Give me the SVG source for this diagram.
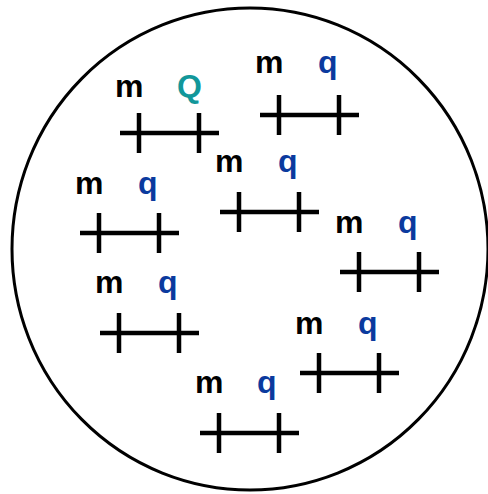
<svg xmlns="http://www.w3.org/2000/svg" width="488" height="494" viewBox="0 0 488 494">
<style>
.b{stroke:#000;stroke-width:4.5;fill:none}
.t{font-family:"Liberation Sans",Arial,sans-serif;font-weight:bold;font-size:32px}
.m{fill:#000}
.q{fill:#0b3a9e}
.Q{fill:#12979a}
</style>
<defs>
<g id="bar"><path class="b" d="M0 0H99M19 -20V20M79 -20V20"/></g>
</defs>
<rect width="488" height="494" fill="#fff"/>
<ellipse cx="250" cy="249" rx="238" ry="241" fill="none" stroke="#000" stroke-width="3"/>
<g id="n1"><use href="#bar" x="120" y="133"/><text class="t m" x="115" y="97">m</text><text class="t Q" x="177" y="97">Q</text></g>
<g id="n2"><use href="#bar" x="260" y="115"/><text class="t m" x="255" y="73">m</text><text class="t q" x="318" y="73">q</text></g>
<g id="n3"><use href="#bar" x="80" y="233"/><text class="t m" x="75" y="194">m</text><text class="t q" x="138" y="194">q</text></g>
<g id="n4"><use href="#bar" x="220" y="212"/><text class="t m" x="215" y="172">m</text><text class="t q" x="278" y="172">q</text></g>
<g id="n5"><use href="#bar" x="340" y="272"/><text class="t m" x="335" y="233">m</text><text class="t q" x="398" y="233">q</text></g>
<g id="n6"><use href="#bar" x="100" y="333"/><text class="t m" x="95" y="293">m</text><text class="t q" x="158" y="293">q</text></g>
<g id="n7"><use href="#bar" x="300" y="373"/><text class="t m" x="295" y="334">m</text><text class="t q" x="358" y="334">q</text></g>
<g id="n8"><use href="#bar" x="200" y="433"/><text class="t m" x="195" y="393">m</text><text class="t q" x="257" y="393">q</text></g>
<g id="connectors"/>
</svg>
